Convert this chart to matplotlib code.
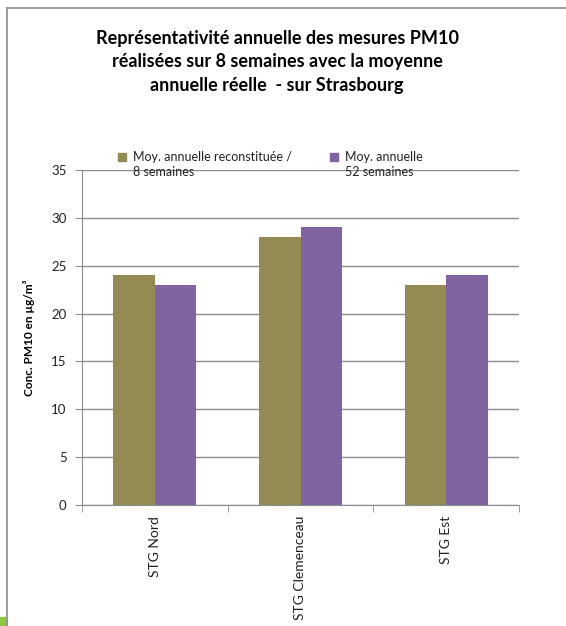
import matplotlib
matplotlib.use("Agg")
import matplotlib.pyplot as plt
import numpy as np
from matplotlib.patches import Rectangle
from matplotlib.lines import Line2D

categories = ["STG Nord", "STG Clemenceau", "STG Est"]
reconstituee_8sem = [24, 28, 23]
annuelle_52sem = [23, 29, 24]
series_labels = ["Moy. annuelle reconstituée /\n8 semaines", "Moy. annuelle\n52 semaines"]
yticks = [0, 5, 10, 15, 20, 25, 30, 35]

olive = "#948A54"
purple = "#8064A2"

plt.rcParams['font.family'] = ['Lato', 'DejaVu Sans']

fig = plt.figure(figsize=(5.66, 6.26), dpi=100)
W, H = 566, 626

def fx(x):
    return x / W

def fy(y):
    return 1 - y / H

ax_l, ax_r = 82, 519
ax = fig.add_axes([fx(ax_l), fy(505), fx(ax_r) - fx(ax_l), fy(170) - fy(505)])

x = np.arange(len(categories))
w = 1 / 3.5
ax.bar(x - w / 2, reconstituee_8sem, width=w, color=olive, zorder=3)
ax.bar(x + w / 2, annuelle_52sem, width=w, color=purple, zorder=3)

ax.set_xlim(-0.5, len(categories) - 0.5)
ax.set_ylim(0, 35)
ax.set_yticks(yticks)
ax.set_yticklabels([str(v) for v in yticks], fontsize=9.5, color="#222222")
ax.yaxis.grid(True, color="#8c8c8c", linewidth=1.0, zorder=0)
ax.set_axisbelow(True)

for s in ["top", "right"]:
    ax.spines[s].set_visible(False)
ax.spines["left"].set_color("#8c8c8c")
ax.spines["bottom"].set_color("#8c8c8c")
ax.tick_params(axis="y", length=5, color="#8c8c8c", pad=6)

ax.set_xticks(x)
ax.set_xticklabels(categories, rotation=90, fontsize=10, va="top", color="#222222")
ax.tick_params(axis="x", length=0, pad=8)
ax.set_xticks(np.arange(-0.5, len(categories), 1.0), minor=True)
ax.tick_params(axis="x", which="minor", length=5, color="#8c8c8c")

ax.set_ylabel("Conc. PM10 en µg/m³", fontsize=8.5, fontweight="bold")
ax.yaxis.set_label_coords((35 - ax_l) / (ax_r - ax_l), 0.5)

fig.text(fx(277), fy(62), "Représentativité annuelle des mesures PM10\nréalisées sur 8 semaines avec la moyenne\nannuelle réelle  - sur Strasbourg",
         ha="center", va="center", fontsize=13, fontweight="bold", linespacing=1.45)

# legend
leg_items = [(118, olive, series_labels[0]), (330, purple, series_labels[1])]
for lx, col, lab in leg_items:
    fig.patches.append(Rectangle((fx(lx), fy(161)), fx(8), 8 / H, color=col, transform=fig.transFigure))
    fig.text(fx(lx + 15), fy(151), lab, ha="left", va="top", fontsize=9, linespacing=1.35, color="#222222")

# frame
fig.add_artist(Line2D([fx(7), 1], [fy(8), fy(8)], color="#8a8a8a", linewidth=1.2, transform=fig.transFigure))
fig.add_artist(Line2D([fx(7), fx(7)], [fy(8), 0], color="#8a8a8a", linewidth=1.2, transform=fig.transFigure))
fig.patches.append(Rectangle((0, 0), fx(6), 9 / H, color="#8dc63f", transform=fig.transFigure))

fig.savefig("out.png", dpi=100)
